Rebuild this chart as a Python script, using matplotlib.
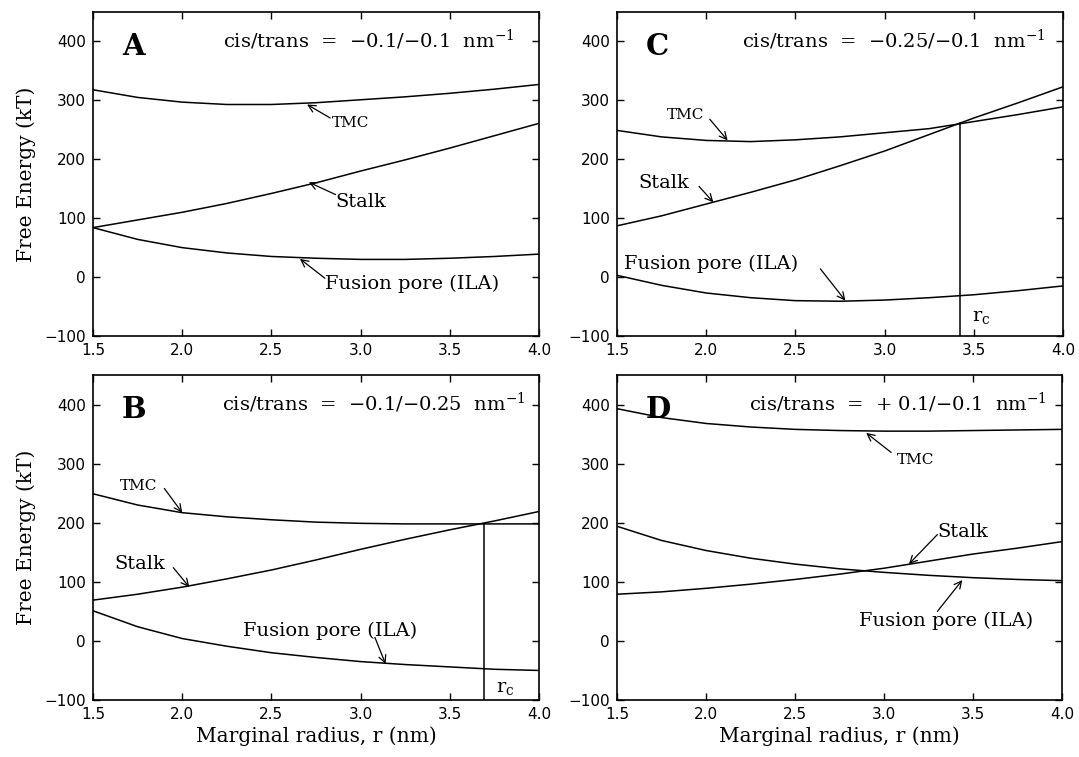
import matplotlib
matplotlib.use('Agg')
import matplotlib.pyplot as plt
import numpy as np

plt.rcParams['mathtext.fontset'] = 'dejavuserif'
plt.rcParams['axes.unicode_minus'] = True

# marginal radius (nm)
r = [1.5, 1.75, 2.0, 2.25, 2.5, 2.75, 3.0, 3.25, 3.5, 3.75, 4.0]

# panel A: cis/trans = -0.1/-0.1
a_tmc = [318, 305, 297, 293, 293, 296, 301, 306, 312, 319, 327]
a_stalk = [84, 97, 110, 125, 142, 160, 180, 199, 219, 240, 261]
a_pore = [84, 64, 50, 41, 35, 32, 30, 30, 32, 35, 39]

# panel B: cis/trans = -0.1/-0.25
b_tmc = [249, 230, 217, 210, 205, 201, 199, 198, 198, 198, 198]
b_stalk = [69, 79, 91, 105, 120, 137, 155, 172, 188, 203, 219]
b_pore = [51, 24, 4, -9, -20, -28, -35, -40, -44, -48, -50]
b_rc, b_rc_e = 3.69, 198

# panel C: cis/trans = -0.25/-0.1
c_tmc = [249, 238, 232, 230, 233, 238, 245, 252, 264, 276, 289]
c_stalk = [87, 104, 124, 144, 165, 189, 214, 242, 270, 296, 323]
c_pore = [3, -14, -27, -35, -40, -41, -39, -35, -30, -23, -15]
c_rc, c_rc_e = 3.42, 261

# panel D: cis/trans = +0.1/-0.1
d_tmc = [393, 378, 368, 362, 358, 356, 355, 355, 356, 357, 358]
d_stalk = [79, 83, 89, 96, 104, 113, 123, 135, 147, 157, 168]
d_pore = [194, 170, 153, 140, 130, 122, 116, 111, 107, 104, 102]

serif = 'DejaVu Serif'
W, H = 1079, 757
fig = plt.figure(figsize=(W / 100, H / 100), dpi=100)

def box(l, t, rgt, b):
    return [l / W, 1 - b / H, (rgt - l) / W, (b - t) / H]

axA = fig.add_axes(box(93, 12, 539, 336))
axC = fig.add_axes(box(617, 12, 1063, 336))
axB = fig.add_axes(box(93, 375, 539, 700))
axD = fig.add_axes(box(617, 375, 1062, 700))

def setup(ax, letter, title, tx):
    ax.set_xlim(1.5, 4.0)
    ax.set_ylim(-100, 450)
    ax.set_xticks([1.5, 2.0, 2.5, 3.0, 3.5, 4.0])
    ax.set_xticklabels(['1.5', '2.0', '2.5', '3.0', '3.5', '4.0'])
    ax.set_yticks([-100, 0, 100, 200, 300, 400])
    ax.tick_params(direction='in', top=True, right=True, length=5, width=1,
                   labelsize=11, pad=5)
    for s in ax.spines.values():
        s.set_linewidth(1.2)
    ax.text(0.065, 0.895, letter, transform=ax.transAxes, family=serif,
            fontsize=21, fontweight='bold', va='center', ha='left')
    ax.text(tx, 0.915, title, transform=ax.transAxes, family=serif,
            fontsize=14, va='center', ha='right')

def curves(ax, tmc, stalk, pore):
    for y in (tmc, stalk, pore):
        ax.plot(r, y, color='black', lw=1.1)

def label(ax, txt, pos, tail, head, size=14):
    ax.text(pos[0], pos[1], txt, family=serif, fontsize=size, ha='left', va='center')
    ax.annotate('', xy=head, xytext=tail,
                arrowprops=dict(arrowstyle='->', lw=0.9, color='black',
                                shrinkA=0, shrinkB=0, mutation_scale=13))

# A
setup(axA, 'A', 'cis/trans  =  \u22120.1/\u22120.1  nm$^{-1}$', 0.945)
curves(axA, a_tmc, a_stalk, a_pore)
label(axA, 'TMC', (2.84, 262), (2.83, 270), (2.70, 293), size=11)
label(axA, 'Stalk', (2.86, 128), (2.86, 140), (2.71, 161))
label(axA, 'Fusion pore (ILA)', (2.8, -12), (2.8, -2), (2.66, 31))
axA.set_ylabel('Free Energy (kT)', family=serif, fontsize=14.5, labelpad=6)

# C
setup(axC, 'C', 'cis/trans  =  \u22120.25/\u22120.1  nm$^{-1}$', 0.96)
curves(axC, c_tmc, c_stalk, c_pore)
axC.plot([c_rc, c_rc], [-100, c_rc_e], color='black', lw=1.1)
label(axC, 'TMC', (1.78, 275), (2.02, 268), (2.12, 232), size=11)
label(axC, 'Stalk', (1.62, 160), (1.96, 154), (2.04, 127))
label(axC, 'Fusion pore (ILA)', (1.54, 22), (2.64, 14), (2.78, -40))
axC.text(3.49, -68, 'r$_\\mathrm{c}$', family=serif, fontsize=14, va='center')

# B
setup(axB, 'B', 'cis/trans  =  \u22120.1/\u22120.25  nm$^{-1}$', 0.97)
curves(axB, b_tmc, b_stalk, b_pore)
axB.plot([b_rc, b_rc], [-100, b_rc_e], color='black', lw=1.1)
label(axB, 'TMC', (1.65, 262), (1.9, 258), (2.0, 217), size=11)
label(axB, 'Stalk', (1.62, 130), (1.95, 124), (2.04, 91))
label(axB, 'Fusion pore (ILA)', (2.34, 17), (3.08, 6), (3.14, -39))
axB.text(3.76, -80, 'r$_\\mathrm{c}$', family=serif, fontsize=14, va='center')
axB.set_ylabel('Free Energy (kT)', family=serif, fontsize=14.5, labelpad=6)
axB.set_xlabel('Marginal radius, r (nm)', family=serif, fontsize=14.5, labelpad=3)

# D
setup(axD, 'D', 'cis/trans  =  + 0.1/\u22120.1  nm$^{-1}$', 0.965)
curves(axD, d_tmc, d_stalk, d_pore)
label(axD, 'TMC', (3.07, 307), (3.04, 319), (2.9, 352), size=11)
label(axD, 'Stalk', (3.3, 184), (3.3, 180), (3.14, 130))
label(axD, 'Fusion pore (ILA)', (2.86, 34), (3.3, 50), (3.44, 103))
axD.set_xlabel('Marginal radius, r (nm)', family=serif, fontsize=14.5, labelpad=3)

fig.savefig('out.png', dpi=100)
